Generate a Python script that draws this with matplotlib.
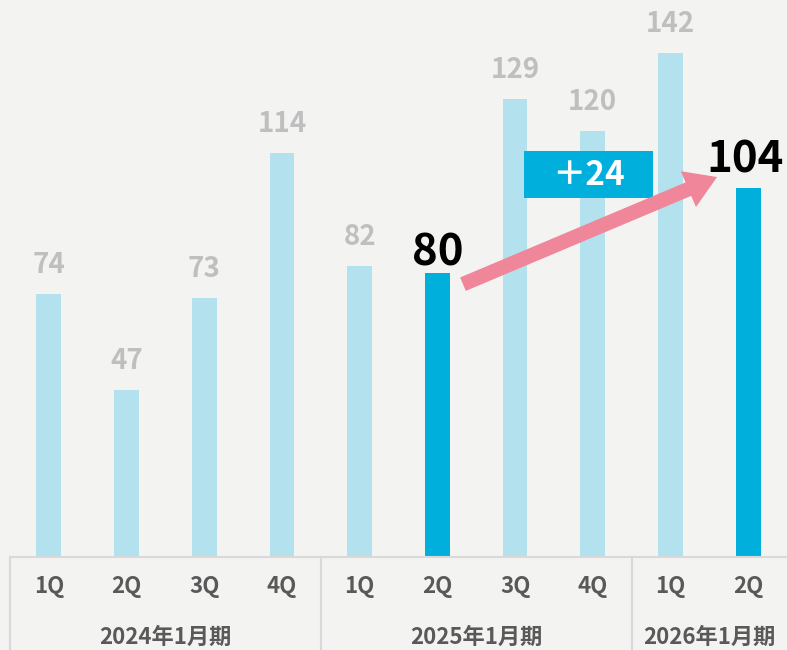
import matplotlib
matplotlib.use("Agg")
import matplotlib.pyplot as plt
from matplotlib.patches import FancyArrowPatch, Rectangle

plt.rcParams['font.family'] = ['Noto Sans CJK JP', 'DejaVu Sans']

quarters = ['1Q', '2Q', '3Q', '4Q', '1Q', '2Q', '3Q', '4Q', '1Q', '2Q']
values = [74, 47, 73, 114, 82, 80, 129, 120, 142, 104]
highlight = [False, False, False, False, False, True, False, False, False, True]
years = ['2024年1月期', '2025年1月期', '2026年1月期']
year_spans = [(0, 3), (4, 7), (8, 9)]
diff_label = '＋24'

BG = '#f3f3f1'
LIGHT = '#b3e1ed'
DARK = '#00afdc'
GRAY_TXT = '#bfbfbf'
AX_TXT = '#595959'
LINE = '#d9d9d9'
PINK = '#f08699'

W, H = 787, 650
fig = plt.figure(figsize=(W / 100, H / 100), dpi=100, facecolor=BG)
base_y = 557
ax = fig.add_axes([10 / W, (H - base_y) / H, 777 / W, base_y / H])
ax.set_facecolor(BG)
ax.set_xlim(-0.5, 9.5)
ax.set_ylim(0, 157)
ax.axis('off')

x = list(range(len(values)))
colors = [DARK if h else LIGHT for h in highlight]
ax.bar(x, values, width=0.32, color=colors, zorder=2)

for xi, v, h in zip(x, values, highlight):
    if h:
        off = 8 if v < 100 else 16
        ax.annotate(str(v), (xi, v), xytext=(-2 if v >= 100 else 0, off * 0.72),
                    textcoords='offset points',
                    ha='center', va='baseline', fontsize=31.5, fontweight='bold',
                    color='black', zorder=5)
    else:
        ax.annotate(str(v), (xi, v), xytext=(0, 21 * 0.72), textcoords='offset points',
                    ha='center', va='baseline', fontsize=20, fontweight='bold',
                    color=GRAY_TXT, zorder=5)

# table below axis
tr = ax.get_xaxis_transform()
bottom = -(H - base_y) / base_y
ax.plot([-0.5, 9.5], [0, 0], transform=tr, color=LINE, lw=1.5, clip_on=False, zorder=3)
for sx in [-0.5, 3.5, 7.5]:
    ax.plot([sx, sx], [0, bottom], transform=tr, color=LINE, lw=1.5, clip_on=False)
q_y = -(587 - base_y) / base_y
y_y = -(637 - base_y) / base_y
for xi, q in zip(x, quarters):
    ax.text(xi, q_y, q, transform=tr, ha='center', va='center', fontsize=16,
            fontweight='bold', color=AX_TXT)
for yl, (a, b) in zip(years, year_spans):
    ax.text((a + b) / 2, y_y, yl, transform=tr, ha='center', va='center', fontsize=16,
            fontweight='bold', color=AX_TXT)

# difference box
ax.add_patch(Rectangle((6.115, 101.2), 1.66, 13.2, facecolor=DARK, edgecolor='none', zorder=4))
ax.text(6.95, 107.6, diff_label, ha='center', va='center', fontsize=24,
        fontweight='bold', color='white', zorder=5)

# arrow
arr = FancyArrowPatch((5.33, 76.9), (8.60, 107.1),
                      arrowstyle='simple,head_width=2.0,head_length=1.6,tail_width=0.75',
                      mutation_scale=14, color=PINK, lw=0, shrinkA=0, shrinkB=0, zorder=6)
ax.add_patch(arr)

fig.savefig('out.png', dpi=100, facecolor=BG)
